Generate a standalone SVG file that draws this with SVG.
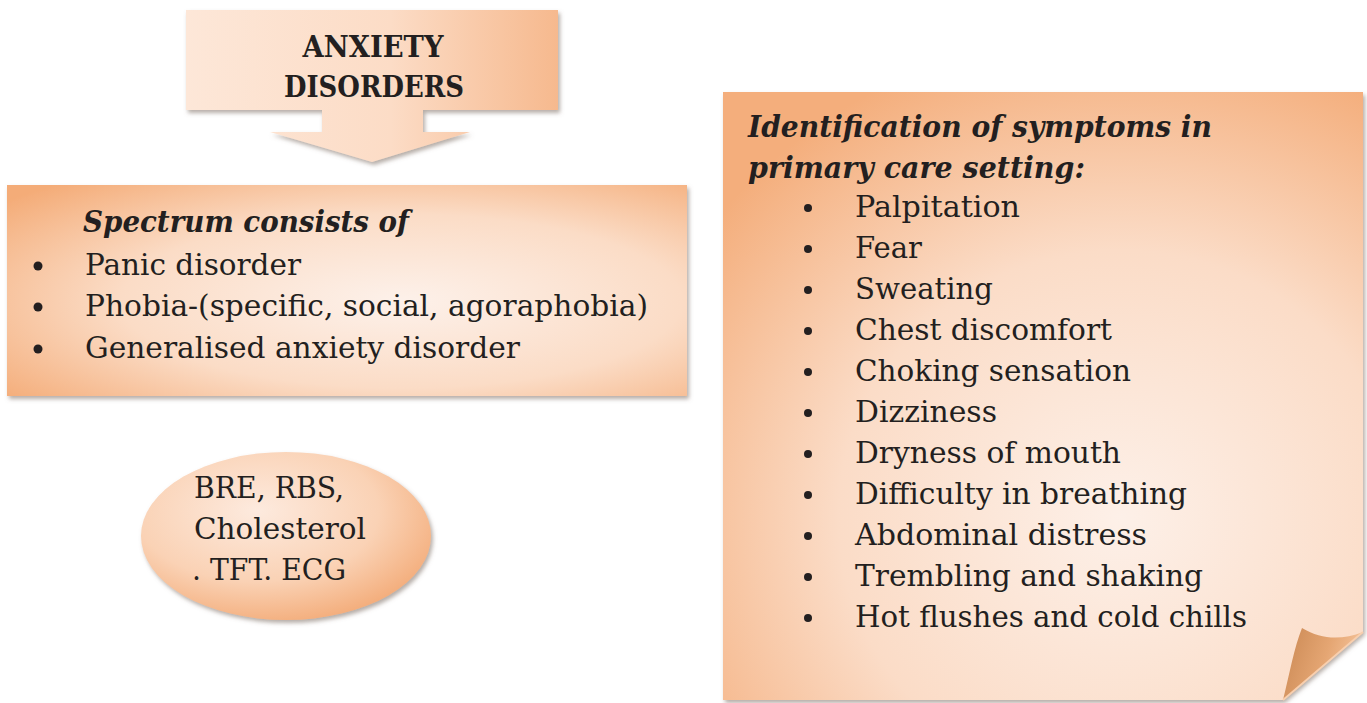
<svg xmlns="http://www.w3.org/2000/svg" width="1367" height="703" viewBox="0 0 1367 703">
<defs>
<style>
text{font-family:"DejaVu Serif","Liberation Serif",serif;fill:#231f20;}
.h{font-weight:bold;}
.hi{font-weight:bold;font-style:italic;}
.t{font-size:29px;}
.l{font-size:30px;}
.dot{fill:#231f20;}
</style>
<filter id="sh" x="-5%" y="-5%" width="112%" height="115%">
<feDropShadow dx="2" dy="3" stdDeviation="2" flood-color="#7a6a60" flood-opacity="0.55"/>
</filter>
<linearGradient id="gTop" x1="0" y1="0" x2="1" y2="0">
<stop offset="0" stop-color="#fde7d8"/>
<stop offset="0.55" stop-color="#fcdcc6"/>
<stop offset="1" stop-color="#f6b98e"/>
</linearGradient>
<radialGradient id="gBox" cx="0.58" cy="0.55" r="0.75">
<stop offset="0" stop-color="#fdf1ea"/>
<stop offset="0.55" stop-color="#fbdcc6"/>
<stop offset="1" stop-color="#f4ac78"/>
</radialGradient>
<radialGradient id="gNote" cx="0.62" cy="0.7" r="0.8">
<stop offset="0" stop-color="#fdf0e8"/>
<stop offset="0.55" stop-color="#fbdcc7"/>
<stop offset="1" stop-color="#f4ae7c"/>
</radialGradient>
<radialGradient id="gEll" cx="0.4" cy="0.35" r="0.7">
<stop offset="0" stop-color="#fdeade"/>
<stop offset="0.6" stop-color="#fad2b5"/>
<stop offset="1" stop-color="#f3ab78"/>
</radialGradient>
<linearGradient id="gFlap" x1="0" y1="0" x2="1" y2="0.3">
<stop offset="0" stop-color="#c98752"/>
<stop offset="0.6" stop-color="#e5a673"/>
<stop offset="1" stop-color="#f6c49b"/>
</linearGradient>
</defs>
<rect width="1367" height="703" fill="#ffffff"/>
<g id="connectors"></g>
<g id="node-anxiety">
<path d="M186,10 H558 V110 H423 V132 H470 L372,162 L270,132 H322 V110 H186 Z" fill="url(#gTop)" filter="url(#sh)"/>
<text class="h" x="373" y="57" font-size="30" text-anchor="middle" textLength="141" lengthAdjust="spacingAndGlyphs">ANXIETY</text>
<text class="h" x="374" y="97" font-size="30" text-anchor="middle" textLength="180" lengthAdjust="spacingAndGlyphs">DISORDERS</text>
</g>
<g id="node-spectrum">
<rect x="7" y="185" width="680" height="211" fill="url(#gBox)" filter="url(#sh)"/>
<text class="hi l" x="83" y="232" textLength="326" lengthAdjust="spacingAndGlyphs">Spectrum consists of</text>
<circle class="dot" cx="38" cy="266" r="4.5"/>
<text class="l" x="85" y="275" textLength="216" lengthAdjust="spacingAndGlyphs">Panic disorder</text>
<circle class="dot" cx="38" cy="307" r="4.5"/>
<text class="l" x="85" y="316" textLength="563" lengthAdjust="spacingAndGlyphs">Phobia-(specific, social, agoraphobia)</text>
<circle class="dot" cx="38" cy="349" r="4.5"/>
<text class="l" x="85" y="358" textLength="435" lengthAdjust="spacingAndGlyphs">Generalised anxiety disorder</text>
</g>
<g id="node-tests">
<ellipse cx="286" cy="536" rx="145" ry="84" fill="url(#gEll)" filter="url(#sh)"/>
<text class="l" x="194" y="498" textLength="150" lengthAdjust="spacingAndGlyphs">BRE, RBS,</text>
<text class="l" x="194" y="539" textLength="172" lengthAdjust="spacingAndGlyphs">Cholesterol</text>
<text class="l" x="192" y="580" textLength="154" lengthAdjust="spacingAndGlyphs">. TFT. ECG</text>
</g>
<g id="node-symptoms">
<path d="M723,92 H1363 V632 L1283,700 H723 Z" fill="url(#gNote)" filter="url(#sh)"/>
<path d="M1283,700 C1290,672 1294,648 1302,628 C1322,640 1342,640 1363,632 Z" fill="url(#gFlap)"/>
<path d="M1283,700 L1363,632" stroke="#f8cfae" stroke-width="2" fill="none"/>
<text class="hi t" x="748" y="137" textLength="464" lengthAdjust="spacingAndGlyphs">Identification of symptoms in</text>
<text class="hi t" x="748" y="178" textLength="337" lengthAdjust="spacingAndGlyphs">primary care setting:</text>
<g class="items">
<circle class="dot" cx="808" cy="208" r="4"/>
<text class="t" x="855" y="217" textLength="165" lengthAdjust="spacingAndGlyphs">Palpitation</text>
<circle class="dot" cx="808" cy="249" r="4"/>
<text class="t" x="855" y="258" textLength="67" lengthAdjust="spacingAndGlyphs">Fear</text>
<circle class="dot" cx="808" cy="290" r="4"/>
<text class="t" x="855" y="299" textLength="138" lengthAdjust="spacingAndGlyphs">Sweating</text>
<circle class="dot" cx="808" cy="331" r="4"/>
<text class="t" x="855" y="340" textLength="257" lengthAdjust="spacingAndGlyphs">Chest discomfort</text>
<circle class="dot" cx="808" cy="372" r="4"/>
<text class="t" x="855" y="381" textLength="276" lengthAdjust="spacingAndGlyphs">Choking sensation</text>
<circle class="dot" cx="808" cy="413" r="4"/>
<text class="t" x="855" y="422" textLength="142" lengthAdjust="spacingAndGlyphs">Dizziness</text>
<circle class="dot" cx="808" cy="454" r="4"/>
<text class="t" x="855" y="463" textLength="266" lengthAdjust="spacingAndGlyphs">Dryness of mouth</text>
<circle class="dot" cx="808" cy="495" r="4"/>
<text class="t" x="855" y="504" textLength="332" lengthAdjust="spacingAndGlyphs">Difficulty in breathing</text>
<circle class="dot" cx="808" cy="536" r="4"/>
<text class="t" x="855" y="545" textLength="292" lengthAdjust="spacingAndGlyphs">Abdominal distress</text>
<circle class="dot" cx="808" cy="577" r="4"/>
<text class="t" x="855" y="586" textLength="348" lengthAdjust="spacingAndGlyphs">Trembling and shaking</text>
<circle class="dot" cx="808" cy="618" r="4"/>
<text class="t" x="855" y="627" textLength="392" lengthAdjust="spacingAndGlyphs">Hot flushes and cold chills</text>
</g>
</g>
</svg>
